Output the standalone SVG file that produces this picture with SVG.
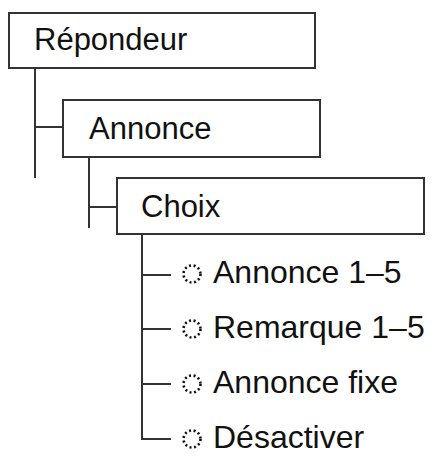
<svg xmlns="http://www.w3.org/2000/svg" width="432" height="460" viewBox="0 0 432 460">
<style>
.box{fill:#fff;stroke:#333;stroke-width:2}
.ln{fill:none;stroke:#333;stroke-width:2}
.t{font-family:"Liberation Sans",Arial,sans-serif;font-size:31px;fill:#111}
.li{font-family:"Liberation Sans",Arial,sans-serif;font-size:32px;fill:#111}
.dot{fill:none;stroke:#111;stroke-width:2.6;stroke-dasharray:2 2.6}
</style>
<rect width="432" height="460" fill="#fff"/>
<g id="connectors">
<path class="ln" d="M35 68V178M35 127H63"/>
<path class="ln" d="M89 157V228M89 207H117"/>
<path class="ln" d="M142 235V439H171M142 275H171M142 329H171M142 384H171"/>
</g>
<g id="repondeur">
<rect class="box" x="9" y="13" width="306" height="55"/>
<text class="t" x="34" y="50">Répondeur</text>
</g>
<g id="annonce">
<rect class="box" x="63" y="100" width="257" height="57"/>
<text class="t" x="89" y="139">Annonce</text>
</g>
<g id="choix">
<rect class="box" x="117" y="178" width="307" height="56"/>
<text class="t" x="141" y="217">Choix</text>
</g>
<g id="item1">
<circle class="dot" cx="192" cy="274" r="8.5"/>
<text class="li" x="213" y="283">Annonce 1–5</text>
</g>
<g id="item2">
<circle class="dot" cx="192" cy="329" r="8.5"/>
<text class="li" x="213" y="338">Remarque 1–5</text>
</g>
<g id="item3">
<circle class="dot" cx="192" cy="384" r="8.5"/>
<text class="li" x="213" y="393">Annonce fixe</text>
</g>
<g id="item4">
<circle class="dot" cx="192" cy="439" r="8.5"/>
<text class="li" x="213" y="448">Désactiver</text>
</g>
</svg>
